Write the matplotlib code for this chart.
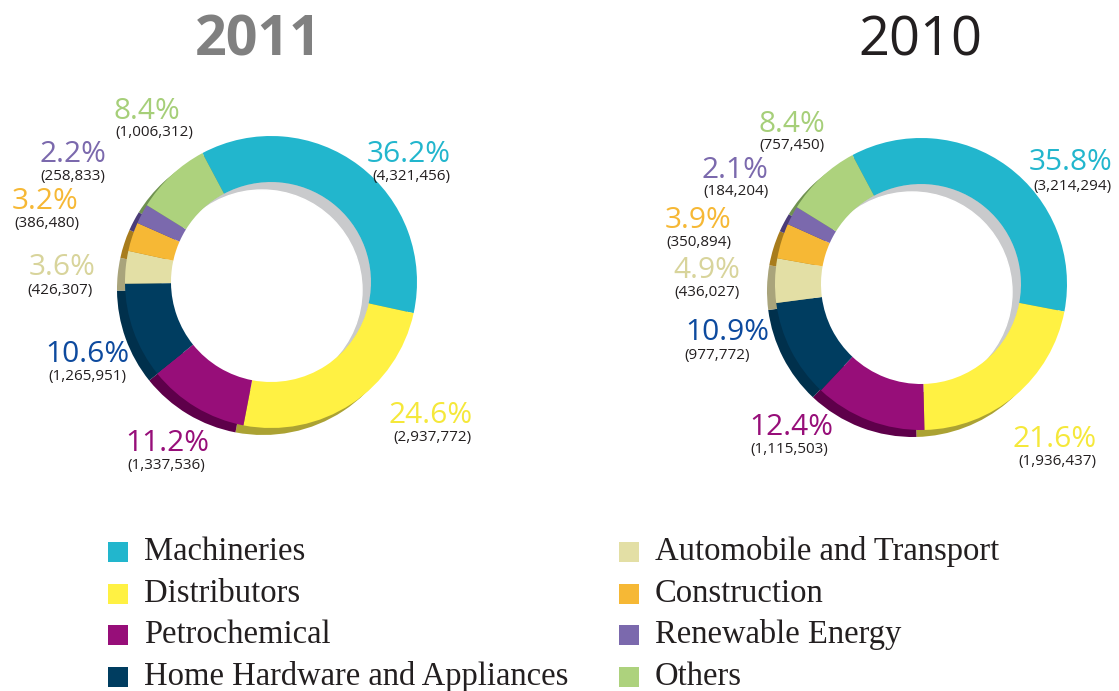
import matplotlib.pyplot as plt
from matplotlib.patches import Circle

# data
sectors = ['Machineries', 'Distributors', 'Petrochemical',
           'Home Hardware and Appliances', 'Automobile and Transport',
           'Construction', 'Renewable Energy', 'Others']
pct_2011 = [36.2, 24.6, 11.2, 10.6, 3.6, 3.2, 2.2, 8.4]
val_2011 = ['4,321,456', '2,937,772', '1,337,536', '1,265,951',
            '426,307', '386,480', '258,833', '1,006,312']
pct_2010 = [35.8, 21.6, 12.4, 10.9, 4.9, 3.9, 2.1, 8.4]
val_2010 = ['3,214,294', '1,936,437', '1,115,503', '977,772',
            '436,027', '350,894', '184,204', '757,450']

face_col = ['#22b6cd', '#fff143', '#970e79', '#003d60',
            '#e3dfa5', '#f6b835', '#7b69ad', '#add27d']
depth_col = ['#178a9c', '#aba233', '#5e004a', '#00304c',
             '#a9a47b', '#a87c1c', '#4b3c78', '#6f9150']
text_col = ['#22b6cd', '#f5e83a', '#970e79', '#0d4a9e',
            '#d8d49b', '#f6b835', '#7b69ad', '#a6cf79']

W, H = 1119, 691
R, RING = 146, 46
START = 118
PCT_FONT = 'Open Sans'

# label spots (image px, centre of the digits): (pct x, pct y, value x, value y)
lab_2011 = [(409, 152, 411, 174), (431, 413, 432, 436), (167, 441, 166, 463),
            (87, 352, 87, 374), (62, 265, 60, 288), (45, 199, 47, 221),
            (73, 152, 73, 174), (147, 109, 154, 130)]
lab_2010 = [(1071, 160, 1072, 184), (1055, 437, 1057, 459), (791, 425, 789, 447),
            (727, 330, 717, 353), (707, 268, 707, 290), (698, 218, 699, 240),
            (735, 168, 736, 189), (792, 122, 792, 143)]


def donut(ax, cx, cy, pcts):
    cy = H - cy
    # depth of the ring, pushed down-left
    ax.pie(pcts, colors=depth_col, startangle=START, counterclock=False,
           radius=R, center=(cx - 8, cy - 7), wedgeprops=dict(width=RING))
    # inner wall seen through the hole
    ax.add_patch(Circle((cx, cy), R - RING, color='#c9cacc', zorder=2))
    ax.add_patch(Circle((cx - 9, cy - 8), R - RING, color='white', zorder=2))
    wedges, _ = ax.pie(pcts, colors=face_col, startangle=START, counterclock=False,
                       radius=R, center=(cx, cy), wedgeprops=dict(width=RING))
    for w in wedges:
        w.set_zorder(3)


def labels(ax, pcts, vals, spots):
    for p, v, c, (px, py, vx, vy) in zip(pcts, vals, text_col, spots):
        ax.text(px, H - py - 10, '%.1f%%' % p, color=c, fontsize=21.5,
                family=PCT_FONT, ha='center', va='baseline')
        ax.text(vx, H - vy - 5.5, '(%s)' % v, color='#231f20', fontsize=11,
                family=PCT_FONT, ha='center', va='baseline')


def main():
    fig = plt.figure(figsize=(W / 100, H / 100), dpi=100)
    ax = fig.add_axes([0, 0, 1, 1])

    donut(ax, 271, 282, pct_2011)
    donut(ax, 921, 284, pct_2010)
    labels(ax, pct_2011, val_2011, lab_2011)
    labels(ax, pct_2010, val_2010, lab_2010)

    # titles
    ax.text(258, H - 55, '2011', fontsize=40, fontweight='bold', color='#808080',
            family=PCT_FONT, ha='center', va='baseline')
    ax.text(920, H - 55, '2010', fontsize=39, color='#231f20',
            family=PCT_FONT, ha='center', va='baseline')

    # legend
    for i, (name, c) in enumerate(zip(sectors, face_col)):
        col, row = divmod(i, 4)
        sx = 118 + col * 511
        ty = 560 + row * 41.7
        ax.scatter([sx], [H - (ty - 8)], marker='s', s=228, color=c,
                   linewidths=0, zorder=3)
        ax.text(sx + 26, H - ty, name, fontsize=23.5, family='Liberation Serif',
                color='#231f20', ha='left', va='baseline')

    ax.set_xlim(0, W)
    ax.set_ylim(0, H)
    ax.set_aspect('auto')
    ax.axis('off')
    fig.savefig('out.png', dpi=100)


if __name__ == "__main__":
    main()
